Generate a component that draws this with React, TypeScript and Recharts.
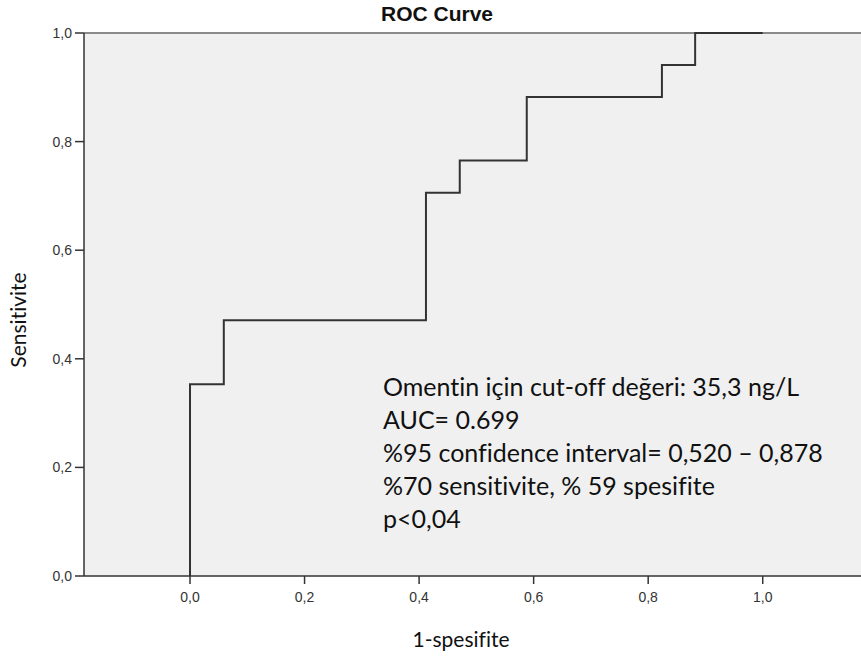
import React from 'react'
import { LineChart, Line, XAxis, YAxis, CartesianGrid, ReferenceLine } from 'recharts'

// ROC step curve (n = 17 positives)
const fpr = [0, 0, 0.059, 0.059, 0.412, 0.412, 0.471, 0.471, 0.588, 0.588, 0.824, 0.824, 0.882, 0.882, 1.0]
const tpr = [0, 0.353, 0.353, 0.471, 0.471, 0.706, 0.706, 0.765, 0.765, 0.882, 0.882, 0.941, 0.941, 1.0, 1.0]

const xTicks = [0, 0.2, 0.4, 0.6, 0.8, 1.0]
const yTicks = [0, 0.2, 0.4, 0.6, 0.8, 1.0]

const notes = [
  'Omentin için cut-off değeri: 35,3 ng/L',
  'AUC= 0.699',
  '%95 confidence interval= 0,520 – 0,878',
  '%70 sensitivite, % 59 spesifite',
  'p<0,04',
]

const data = fpr.map((x, i) => ({ fpr: x, tpr: tpr[i] }))

const fmt = (v: number) => v.toFixed(1).replace('.', ',')

const tickFont = 'Liberation Sans, Arial, sans-serif'

function XTick(props: any) {
  const { x, y, payload } = props
  return (
    <text x={x} y={y + 16} textAnchor="middle" fontFamily={tickFont} fontSize={14} fill="#333">
      {fmt(payload.value)}
    </text>
  )
}

function YTick(props: any) {
  const { x, y, payload } = props
  return (
    <text x={x - 1} y={y + 5} textAnchor="end" fontFamily={tickFont} fontSize={14} fill="#333">
      {fmt(payload.value)}
    </text>
  )
}

const labelFont: React.CSSProperties = { fontFamily: 'Lato, sans-serif', color: '#111', whiteSpace: 'nowrap', fontVariantLigatures: 'none' }

export default function App() {
  return (
    <div style={{ position: 'absolute', left: 0, top: 0, width: 861, height: 656, background: '#fff' }}>
      <LineChart width={861} height={656} data={data} margin={{ top: 33, right: 0, bottom: 50, left: 0 }}>
        <CartesianGrid fill="#f0f0f0" horizontal={false} vertical={false} />
        <XAxis
          type="number"
          dataKey="fpr"
          domain={[-0.1851, 1.1716]}
          ticks={xTicks}
          allowDataOverflow
          height={30}
          tickSize={8}
          tick={<XTick />}
          stroke="#333"
          strokeWidth={1.5}
        />
        <YAxis
          type="number"
          domain={[0, 1]}
          ticks={yTicks}
          width={84}
          tickSize={9}
          tick={<YTick />}
          stroke="#333"
          strokeWidth={1.5}
        />
        <ReferenceLine y={1} stroke="#8a8a8a" strokeWidth={2} />
        <Line
          type="linear"
          dataKey="tpr"
          stroke="#333"
          strokeWidth={2}
          dot={false}
          activeDot={false}
          isAnimationActive={false}
        />
      </LineChart>

      <div style={{ position: 'absolute', left: 0, width: 874, top: 2, textAlign: 'center', fontFamily: tickFont, fontWeight: 'bold', fontSize: 21, color: '#111' }}>
        ROC Curve
      </div>
      <div style={{ ...labelFont, position: 'absolute', left: 0, width: 922, top: 626, textAlign: 'center', fontSize: 21 }}>
        1-spesifite
      </div>
      <div style={{ ...labelFont, position: 'absolute', left: 17, top: 320, transform: 'translate(-50%, -50%) rotate(-90deg)', fontSize: 21 }}>
        Sensitivite
      </div>
      <div style={{ ...labelFont, position: 'absolute', left: 383, top: 370, fontSize: 25, lineHeight: '33px' }}>
        {notes.map((n) => (
          <div key={n}>{n}</div>
        ))}
      </div>
    </div>
  )
}
